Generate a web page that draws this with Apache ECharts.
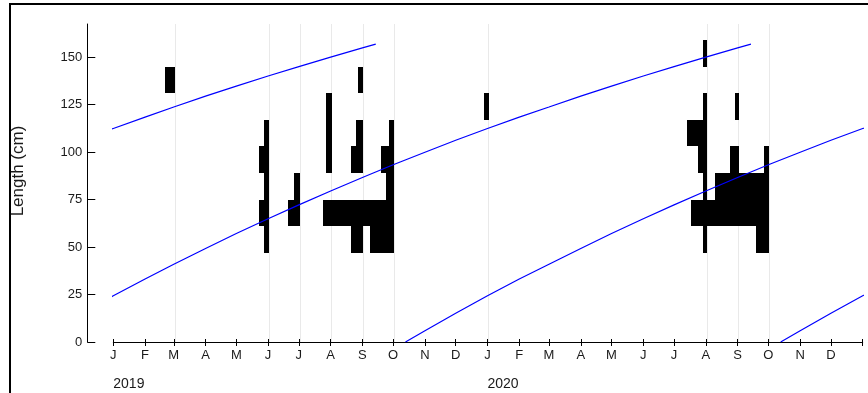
<!DOCTYPE html>
<html>
<head>
<meta charset="utf-8">
<script src="https://cdn.jsdelivr.net/npm/echarts@6/dist/echarts.min.js"></script>
<style>
  html, body { margin: 0; padding: 0; background: #fff; }
  #chart { width: 868px; height: 393px; }
</style>
</head>
<body>
<div id="chart"></div>
<script>
// Length-frequency samples with fitted growth curves (2019-2020)

const DAY = 86400000;

// Length classes (cm): lower edges, class width 14 cm
const binLower = [47, 61, 75, 89, 103, 117, 131, 145];
const binWidth = 14;

// Sampling dates
const sampleDates = [
  '2019-03-02', '2019-06-02', '2019-07-02', '2019-08-02', '2019-09-02',
  '2019-10-02', '2020-01-02', '2020-08-02', '2020-09-02', '2020-10-02'
];

// Relative frequency per length class, one row per sampling date
const freqMar19 = [0, 0, 0, 0, 0, 0, 1.9, 0];
const freqJun19 = [1, 2, 1, 2, 1, 0, 0, 0];
const freqJul19 = [0, 2.4, 1.2, 0, 0, 0, 0, 0];
const freqAug19 = [0, 1.8, 0, 1.1, 1.1, 1.1, 0, 0];
const freqSep19 = [2.5, 6.5, 0, 2.5, 1.4, 0, 1.1, 0];
const freqOct19 = [4.9, 6.3, 1.6, 2.6, 1.1, 0, 0, 0];
const freqJan20 = [0, 0, 0, 0, 0, 1.0, 0, 0];
const freqAug20 = [0.8, 3.1, 0.8, 1.7, 4.0, 0.8, 0, 0.8];
const freqSep20 = [0, 6.5, 4.8, 1.7, 0, 0.8, 0, 0];
const freqOct20 = [2.7, 6.5, 6.5, 1.1, 0, 0, 0, 0];
const sampleFreqs = [freqMar19, freqJun19, freqJul19, freqAug19, freqSep19,
                     freqOct19, freqJan20, freqAug20, freqSep20, freqOct20];

// Growth of one cohort: calendar point (years after birth year, month, day) and length (cm)
const growthYearOffset = [0, 0, 0,
                          1, 1, 1, 1, 1, 1, 1, 1, 1, 1, 1, 1,
                          2, 2, 2, 2, 2, 2, 2, 2, 2, 2];
const growthMonth      = [10, 11, 12,
                          1, 2, 3, 4, 5, 6, 7, 8, 9, 10, 11, 12,
                          1, 2, 3, 4, 5, 6, 7, 8, 9, 9];
const growthDay        = [13, 1, 1,
                          1, 1, 1, 1, 1, 1, 1, 1, 1, 1, 1, 1,
                          1, 1, 1, 1, 1, 1, 1, 1, 1, 14];
const growthLength     = [0, 5.9, 15.1,
                          24.3, 33.2, 40.9, 49.2, 57.1, 64.9, 72.2, 79.5, 86.6, 93.3, 99.9, 106.2,
                          112.4, 118.4, 123.7, 129.4, 134.7, 140.0, 145.0, 150.0, 154.8, 156.8];
// Birth years of the cohorts drawn
const cohortYears = [2017, 2018, 2019, 2020];

// Axis labels
const monthLetters = ['J', 'F', 'M', 'A', 'M', 'J', 'J', 'A', 'S', 'O', 'N', 'D'];
const yearLabels = [2019, 2020];
const yTicks = [0, 25, 50, 75, 100, 125, 150];

// ---- derived structures ----
const xMin = Date.UTC(2019, 0, 1);
const xMax = Date.UTC(2021, 0, 1);

const monthStarts = [];
for (let y = 2019; y <= 2020; y++) {
  for (let m = 0; m < 12; m++) monthStarts.push(Date.UTC(y, m, 1));
}
const tickStarts = monthStarts.concat([xMax]);
const yearStarts = yearLabels.map(y => Date.UTC(y, 0, 1));

const sampleTs = sampleDates.map(d => {
  const p = d.split('-').map(Number);
  return Date.UTC(p[0], p[1] - 1, p[2]);
});

// one bar per positive length class: [date, lower, upper, freq]
const barData = [];
sampleTs.forEach((ts, i) => {
  sampleFreqs[i].forEach((f, j) => {
    if (f > 0) barData.push([ts, binLower[j], binLower[j] + binWidth, f]);
  });
});

const FREQ_DAYS = 4.88; // bar length (days) per unit of relative frequency

const curveSeries = cohortYears.map(by => ({
  type: 'line',
  name: 'cohort ' + by,
  data: growthLength.map((L, k) => [
    Date.UTC(by + growthYearOffset[k], growthMonth[k] - 1, growthDay[k]), L
  ]),
  showSymbol: false,
  symbol: 'none',
  lineStyle: { color: '#0000ff', width: 1.2 },
  itemStyle: { color: '#0000ff' },
  clip: true,
  silent: true,
  z: 5,
  animation: false
}));

const axisText = { color: '#1a1a1a', fontFamily: 'Liberation Sans, Arial, sans-serif' };

const chart = echarts.init(document.getElementById('chart'), null, { renderer: 'canvas' });
chart.setOption({
  animation: false,
  backgroundColor: '#fff',
  graphic: [{
    type: 'rect',
    shape: { x: 10, y: 4, width: 900, height: 500 },
    style: { fill: 'none', stroke: '#000', lineWidth: 2 },
    silent: true
  }],
  grid: { left: 113.3, right: 5.3, top: 24, bottom: 51, containLabel: false },
  xAxis: [{
    type: 'value', position: 'bottom', min: xMin, max: xMax,
    axisLine: { show: true, onZero: false, lineStyle: { color: '#000', width: 1 } },
    axisTick: { show: true, length: 4, customValues: tickStarts, lineStyle: { color: '#000' } },
    axisLabel: {
      show: true, customValues: monthStarts, margin: 7, fontSize: 13, ...axisText,
      formatter: v => monthLetters[new Date(v).getUTCMonth()]
    },
    splitLine: { show: false }
  }, {
    type: 'value', position: 'bottom', min: xMin, max: xMax,
    axisLine: { show: false, onZero: false },
    axisTick: { show: true, inside: true, length: 3, customValues: tickStarts, lineStyle: { color: '#000' } },
    axisLabel: { show: false },
    splitLine: { show: false }
  }, {
    type: 'value', position: 'bottom', min: xMin, max: xMax,
    axisLine: { show: false, onZero: false },
    axisTick: { show: false },
    axisLabel: {
      show: true, customValues: yearStarts, margin: 35, fontSize: 14, align: 'left', ...axisText,
      formatter: v => String(new Date(v).getUTCFullYear())
    },
    splitLine: { show: false }
  }],
  yAxis: {
    type: 'value', min: 0, max: 167.4, offset: 26,
    name: 'Length (cm)', nameLocation: 'middle', nameGap: 60, nameRotate: 90,
    nameTextStyle: { fontSize: 17, color: '#1a1a1a', fontFamily: 'Liberation Sans, Arial, sans-serif', padding: [0, 0, 0, 24] },
    axisLine: { show: true, lineStyle: { color: '#000', width: 1 } },
    axisTick: { show: true, inside: true, length: 8, customValues: yTicks, lineStyle: { color: '#000' } },
    axisLabel: { show: true, customValues: yTicks, margin: 5, fontSize: 13, ...axisText },
    splitLine: { show: false }
  },
  series: [{
    type: 'line',
    name: 'sampling dates',
    data: [],
    silent: true,
    z: 1,
    markLine: {
      z: 1,
      silent: true,
      symbol: ['none', 'none'],
      label: { show: false },
      lineStyle: { color: '#e9e9e9', width: 1, type: 'solid' },
      data: sampleTs.map(ts => ({ xAxis: ts }))
    }
  }, {
    type: 'custom',
    name: 'frequency',
    data: barData,
    z: 3,
    silent: true,
    renderItem: function (params, api) {
      const ts = api.value(0), lo = api.value(1), hi = api.value(2), f = api.value(3);
      const topRight = api.coord([ts, hi]);
      const bottomLeft = api.coord([ts - f * FREQ_DAYS * DAY, lo]);
      // snap to whole pixels so neighbouring bars join without seams
      const x0 = Math.round(bottomLeft[0]), x1 = Math.round(topRight[0]);
      const y0 = Math.round(topRight[1]), y1 = Math.round(bottomLeft[1]);
      return {
        type: 'rect',
        shape: { x: x0, y: y0, width: Math.max(1, x1 - x0), height: y1 - y0 },
        style: { fill: '#000' }
      };
    }
  }].concat(curveSeries)
});
</script>
</body>
</html>
